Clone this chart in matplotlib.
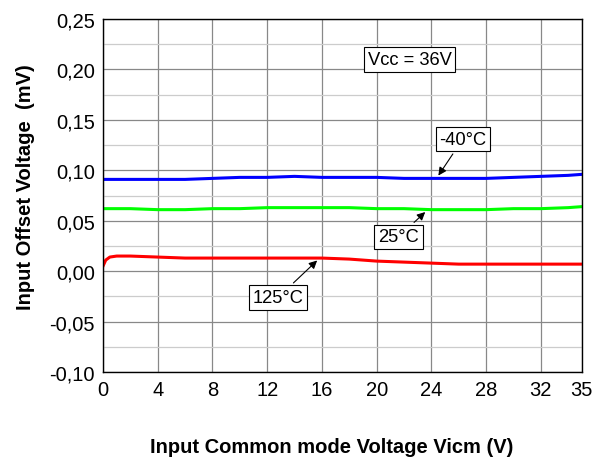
import numpy as np
import matplotlib
matplotlib.use("Agg")
import matplotlib.pyplot as plt
from matplotlib.ticker import FuncFormatter, MultipleLocator

plt.rcParams['font.family'] = ['Liberation Sans', 'DejaVu Sans']

# ---------- data ----------
vicm = [0, 0.2, 0.5, 1, 2, 4, 6, 8, 10, 12, 14, 16, 18, 20, 22, 24, 26, 28, 30, 32, 34, 35]
vio_m40 = [0.091, 0.091, 0.091, 0.091, 0.091, 0.091, 0.091, 0.092, 0.093, 0.093, 0.094, 0.093, 0.093,
           0.093, 0.092, 0.092, 0.092, 0.092, 0.093, 0.094, 0.095, 0.096]
vio_25 = [0.062, 0.062, 0.062, 0.062, 0.062, 0.061, 0.061, 0.062, 0.062, 0.063, 0.063, 0.063, 0.063,
          0.062, 0.062, 0.061, 0.061, 0.061, 0.062, 0.062, 0.063, 0.064]
vio_125 = [0.005, 0.011, 0.014, 0.015, 0.015, 0.014, 0.013, 0.013, 0.013, 0.013, 0.013, 0.013, 0.012,
           0.010, 0.009, 0.008, 0.007, 0.007, 0.007, 0.007, 0.007, 0.007]

x_ticks = [0, 4, 8, 12, 16, 20, 24, 28, 32, 35]

fig = plt.figure(figsize=(6.08, 4.6), dpi=100)
ax = fig.add_axes([0.1694, 0.189, 0.7876, 0.7675])

ax.plot(vicm, vio_m40, color="#0000ff", lw=2.2)
ax.plot(vicm, vio_25, color="#00ff00", lw=2.2)
ax.plot(vicm, vio_125, color="#ff0000", lw=2.2)

ax.set_xlim(0, 35)
ax.set_ylim(-0.10, 0.25)
ax.set_xticks(x_ticks)
ax.yaxis.set_major_locator(MultipleLocator(0.05))
ax.yaxis.set_minor_locator(MultipleLocator(0.025))
ax.yaxis.set_major_formatter(FuncFormatter(lambda v, p: f"{v:.2f}".replace(".", ",").replace("-0,00", "0,00")))
ax.grid(True, which="major", color="#888888", lw=0.9)
ax.grid(True, which="minor", axis="y", color="#cccccc", lw=0.9)
ax.tick_params(which="both", length=0, labelsize=14.5, pad=6)
for s in ax.spines.values():
    s.set_linewidth(1.0)
ax.set_axisbelow(True)

ax.set_xlabel("Input Common mode Voltage Vicm (V)", fontsize=14.5, fontweight="bold", labelpad=27)
ax.set_ylabel("Input Offset Voltage  (mV)", fontsize=14.5, fontweight="bold", labelpad=10)
ax.xaxis.label.set_x(0.478)
ax.yaxis.label.set_y(0.527)

box = dict(boxstyle="square,pad=0.2", fc="white", ec="black", lw=0.8)
arr = dict(arrowstyle="-|>", color="black", lw=0.8, mutation_scale=12)
fs = 13.2
ax.text(22.4, 0.21, "Vcc = 36V", fontsize=fs, ha="center", va="center", bbox=box)
ax.annotate("-40°C", xy=(24.4, 0.0925), xytext=(26.3, 0.131), fontsize=fs,
            ha="center", va="center", bbox=box, arrowprops=arr)
ax.annotate("25°C", xy=(23.7, 0.0605), xytext=(21.6, 0.034), fontsize=fs,
            ha="center", va="center", bbox=box, arrowprops=arr)
ax.annotate("125°C", xy=(15.8, 0.0125), xytext=(12.8, -0.026), fontsize=fs,
            ha="center", va="center", bbox=box, arrowprops=arr)

fig.savefig("out.png", dpi=100)
